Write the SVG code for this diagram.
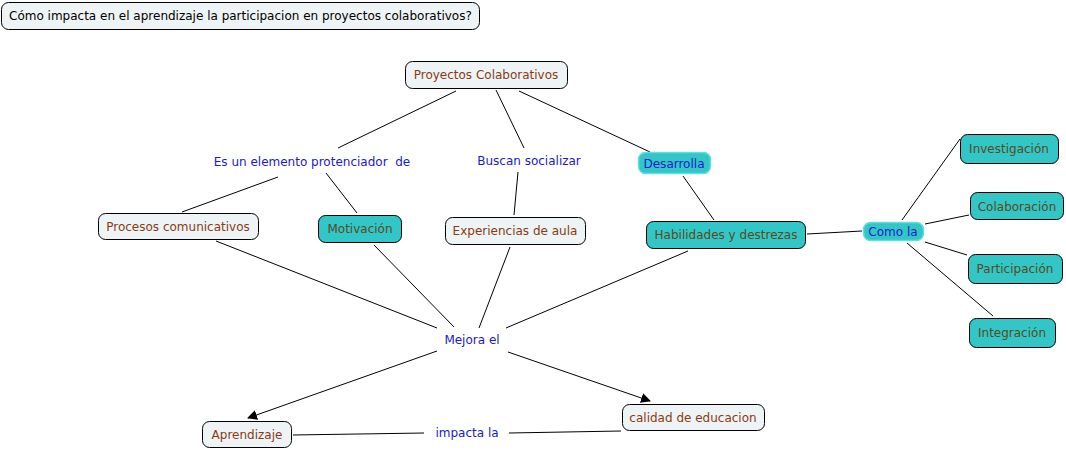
<svg xmlns="http://www.w3.org/2000/svg" width="1066" height="451" viewBox="0 0 1066 451">
<defs>
<style>
.n rect{fill:#eef4f5;stroke:#000;stroke-width:1}
.t rect{fill:#33c6c6;stroke:#000;stroke-width:1}
.lp rect{fill:#33c6c6;stroke:#66dddd;stroke-width:1.5}
text{font-family:"DejaVu Sans",Verdana,sans-serif;font-size:12px;text-anchor:middle}
.n text{fill:#8b3a10}
.t text{fill:#5a4a20}
.lbl text,.lp text{fill:#1a1acc}
#title text{fill:#000;text-anchor:start}
#conn line{stroke:#000;stroke-width:1}
</style>
<marker id="ah" viewBox="0 0 10 10" refX="9" refY="5" markerWidth="10" markerHeight="10" markerUnits="userSpaceOnUse" orient="auto">
<path d="M0,0 L10,5 L0,10 z" fill="#000"/>
</marker>
</defs>
<rect width="1066" height="451" fill="#fff"/>
<g id="conn">
<line x1="456" y1="91" x2="338" y2="148"/>
<line x1="496" y1="90" x2="524" y2="148"/>
<line x1="519" y1="91" x2="650" y2="152"/>
<line x1="278" y1="177" x2="182" y2="212"/>
<line x1="326" y1="173" x2="357" y2="213"/>
<line x1="518" y1="172" x2="514" y2="215"/>
<line x1="683" y1="176" x2="714" y2="220"/>
<line x1="216" y1="241" x2="437" y2="328"/>
<line x1="374" y1="245" x2="454" y2="327"/>
<line x1="510" y1="247" x2="479" y2="328"/>
<line x1="688" y1="251" x2="506" y2="328"/>
<line x1="437" y1="351" x2="248" y2="418" marker-end="url(#ah)"/>
<line x1="508" y1="352" x2="650" y2="401" marker-end="url(#ah)"/>
<line x1="807" y1="234" x2="862" y2="231"/>
<line x1="902" y1="220" x2="960" y2="139"/>
<line x1="925" y1="224" x2="969" y2="215"/>
<line x1="925" y1="242" x2="967" y2="255"/>
<line x1="907" y1="243" x2="993" y2="316"/>
<line x1="293" y1="435" x2="424" y2="433"/>
<line x1="509" y1="433" x2="621" y2="431"/>
</g>
<g id="title" class="n"><rect x="1.5" y="2.5" width="478" height="27" rx="7"/><text x="9" y="20">Cómo impacta en el aprendizaje la participacion en proyectos colaborativos?</text></g>
<g id="proyectos" class="n"><rect x="405.5" y="61.5" width="162" height="27" rx="7"/><text x="486" y="79">Proyectos Colaborativos</text></g>
<g id="esun" class="lbl"><text x="312" y="166" xml:space="preserve">Es un elemento protenciador  de</text></g>
<g id="buscan" class="lbl"><text x="529" y="165">Buscan socializar</text></g>
<g id="desarrolla" class="lp"><rect x="638.5" y="152.5" width="72" height="21" rx="7"/><text x="674" y="168">Desarrolla</text></g>
<g id="procesos" class="n"><rect x="98.5" y="213.5" width="160" height="26" rx="7"/><text x="178" y="231">Procesos comunicativos</text></g>
<g id="motivacion" class="t"><rect x="318.5" y="215.5" width="83" height="27" rx="7"/><text x="360" y="233">Motivación</text></g>
<g id="experiencias" class="n"><rect x="445.5" y="217.5" width="140" height="27" rx="7"/><text x="515" y="235">Experiencias de aula</text></g>
<g id="habilidades" class="t"><rect x="646.5" y="221.5" width="159" height="27" rx="7"/><text x="726" y="239">Habilidades y destrezas</text></g>
<g id="comola" class="lp"><rect x="863.5" y="222.5" width="60" height="18" rx="7"/><text x="893" y="236">Como la</text></g>
<g id="investigacion" class="t"><rect x="960.5" y="134.5" width="98" height="29" rx="7"/><text x="1009" y="153">Investigación</text></g>
<g id="colaboracion" class="t"><rect x="970.5" y="192.5" width="93" height="27" rx="7"/><text x="1017" y="211">Colaboración</text></g>
<g id="participacion" class="t"><rect x="968.5" y="254.5" width="94" height="29" rx="7"/><text x="1015" y="273">Participación</text></g>
<g id="integracion" class="t"><rect x="969.5" y="318.5" width="86" height="29" rx="7"/><text x="1012" y="337">Integración</text></g>
<g id="mejora" class="lbl"><text x="472" y="344">Mejora el</text></g>
<g id="aprendizaje" class="n"><rect x="202.5" y="421.5" width="89" height="26" rx="7"/><text x="247" y="439">Aprendizaje</text></g>
<g id="calidad" class="n"><rect x="622.5" y="404.5" width="142" height="26" rx="7"/><text x="693" y="422">calidad de educacion</text></g>
<g id="impacta" class="lbl"><text x="467" y="437">impacta la</text></g>
</svg>
